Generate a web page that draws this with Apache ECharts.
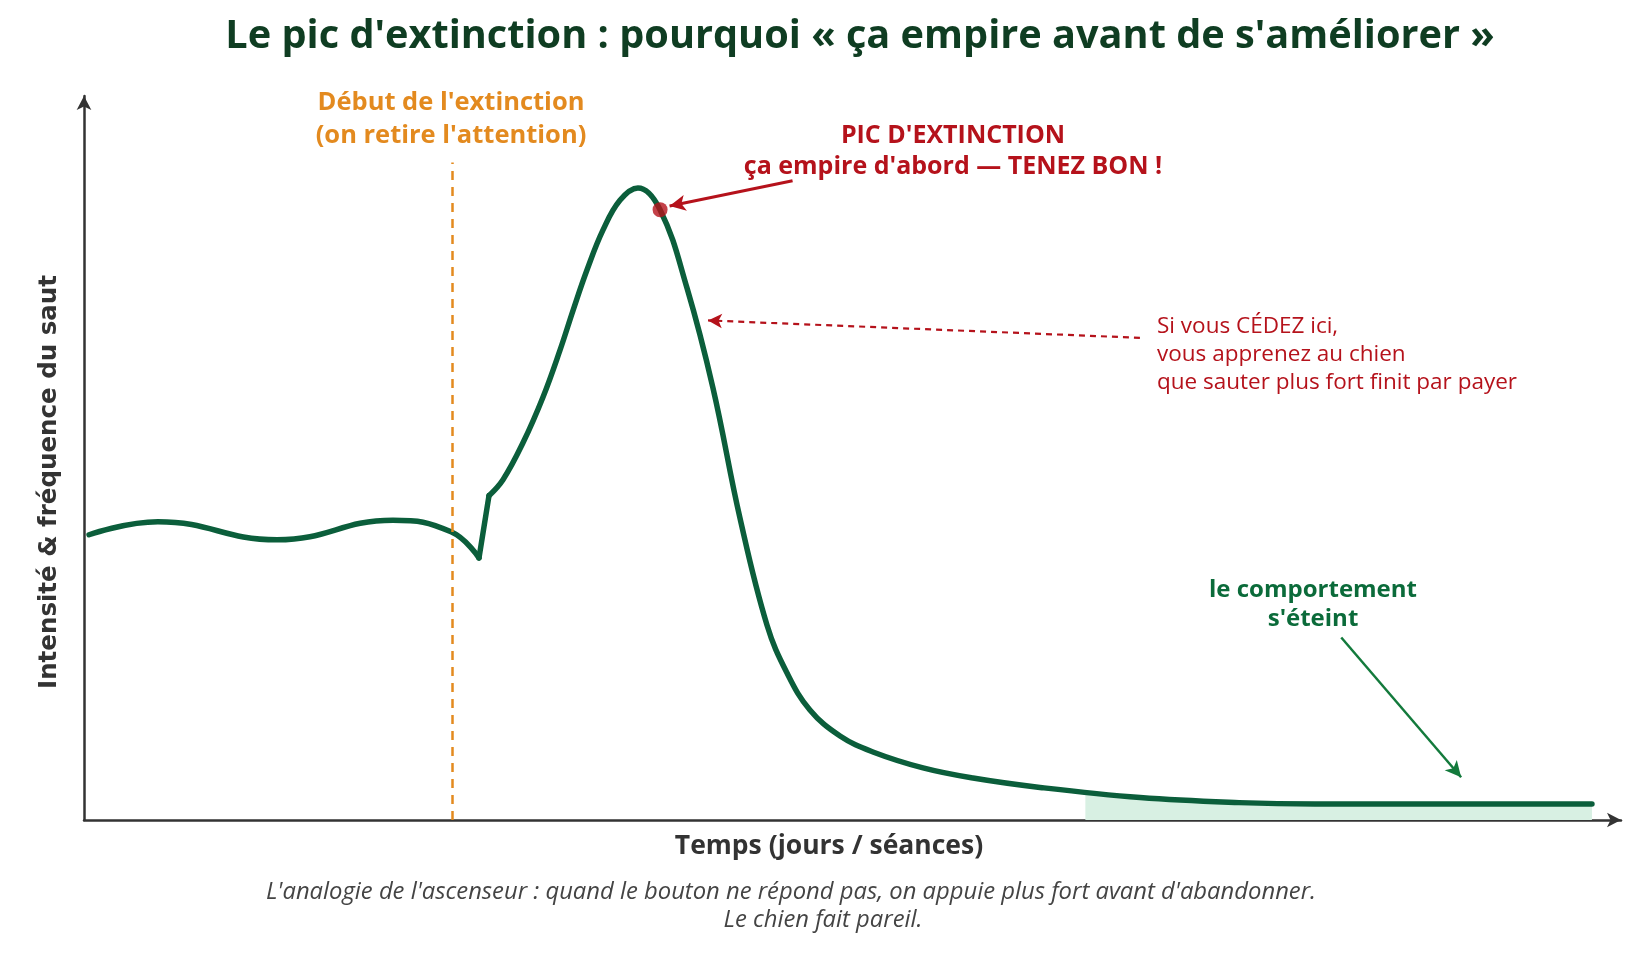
<!DOCTYPE html>
<html>
<head>
<meta charset="utf-8">
<title>Le pic d'extinction</title>
<script src="https://cdn.jsdelivr.net/npm/echarts@6/dist/echarts.min.js"></script>
<style>
  html, body { margin: 0; padding: 0; background: #fff; }
  #chart { width: 1637px; height: 960px; }
</style>
</head>
<body>
<div id="chart"></div>
<script>
// courbe (temps 0-100, intensité 0-100)
var curveTime = [0.33, 4.81, 12.56, 20.10, 23.88, 25.70,
	26.35, 27.26, 28.56, 29.86, 30.97, 31.82, 32.73, 33.77, 34.87, 36.04,
	37.48, 39.23, 40.92, 42.68, 44.44, 45.74, 47.23,
	49.19, 51.33, 54.59, 57.84, 62.20, 68.71, 75.15, 80.09, 98.11];
var curveLevel = [39.4, 41.2, 38.7, 41.4, 39.8, 36.2,
	44.8, 47.0, 52.1, 58.4, 64.9, 70.4, 76.0, 81.5, 85.6, 87.3,
	84.3, 73.5, 59.7, 41.7, 26.9, 20.3, 15.2,
	11.6, 9.4, 7.2, 5.8, 4.5, 3.1, 2.4, 2.2, 2.2];
var dipIndex = 5;   // creux juste après le début de l'extinction
var jumpIndex = 6;  // remontée brutale

// zone claire sous la fin de la courbe
var fillTime = [65.15, 68.71, 75.15, 80.09, 98.11];
var fillLevel = [3.9, 3.1, 2.4, 2.2, 2.2];

var peakPoint = [37.48, 84.3];
var extinctionStart = 23.93;
var extinctionTop = 90.8;

// flèches d'annotation [départ, arrivée]
var peakArrow = [[46.1, 88.3], [38.1, 84.8]];
var cedeArrow = [[68.7, 66.6], [40.6, 69.0]];
var endArrow = [[81.8, 25.2], [89.6, 5.9]];

var green = '#0b5e3b';
var red = '#b5121b';
var orange = '#e38a1f';

function pairs(xs, ys, from, to) {
	var out = [];
	for (var i = from; i <= to; i++) {
		out.push([xs[i], ys[i]]);
	}
	return out;
}

var myChart = echarts.init(document.getElementById('chart'));

var lineStyle = { color: green, width: 5.5, cap: 'round', join: 'round' };

option = {
	animation: false,
	grid: { left: 84, top: 96, width: 1537, height: 724 },
	xAxis: {
		type: 'value', min: 0, max: 100,
		axisLine: { lineStyle: { color: '#333', width: 2.5 }, symbol: ['none', 'arrow'], symbolSize: [11, 14] },
		axisTick: { show: false }, axisLabel: { show: false }, splitLine: { show: false }
	},
	yAxis: {
		type: 'value', min: 0, max: 100,
		axisLine: { show: true, lineStyle: { color: '#333', width: 2.5 }, symbol: ['none', 'arrow'], symbolSize: [11, 14] },
		axisTick: { show: false }, axisLabel: { show: false }, splitLine: { show: false }
	},
	series: [
		{
			type: 'line',
			data: pairs(fillTime, fillLevel, 0, fillTime.length - 1),
			smooth: 0.4,
			symbol: 'none',
			lineStyle: { width: 0 },
			areaStyle: { color: '#d8f0e3', opacity: 1 },
			z: 1,
			silent: true
		},
		{
			type: 'line',
			data: pairs(curveTime, curveLevel, 0, dipIndex),
			smooth: 0.45,
			symbol: 'none',
			lineStyle: lineStyle,
			z: 3
		},
		{
			type: 'line',
			data: pairs(curveTime, curveLevel, dipIndex, jumpIndex),
			symbol: 'none',
			lineStyle: lineStyle,
			z: 3
		},
		{
			type: 'line',
			data: pairs(curveTime, curveLevel, jumpIndex, curveTime.length - 1),
			smooth: 0.4,
			symbol: 'none',
			lineStyle: lineStyle,
			z: 3,
			markLine: {
				silent: true,
				symbol: ['none', 'none'],
				label: { show: false },
				data: [
					[
						{ coord: [extinctionStart, 0], lineStyle: { color: orange, width: 2.5, type: [9, 7] } },
						{ coord: [extinctionStart, extinctionTop] }
					],
					[
						{ coord: peakArrow[0], symbol: 'none', lineStyle: { color: red, width: 3, type: 'solid' } },
						{ coord: peakArrow[1], symbol: 'arrow', symbolSize: [12, 16] }
					],
					[
						{ coord: cedeArrow[0], symbol: 'none', lineStyle: { color: red, width: 2.2, type: [6, 5] } },
						{ coord: cedeArrow[1], symbol: 'arrow', symbolSize: [11, 14] }
					],
					[
						{ coord: endArrow[0], symbol: 'none', lineStyle: { color: '#137a3c', width: 2.5, type: 'solid' } },
						{ coord: endArrow[1], symbol: 'arrow', symbolSize: [12, 16] }
					]
				]
			}
		},
		{
			type: 'scatter',
			data: [peakPoint],
			symbolSize: 15,
			itemStyle: { color: red },
			z: 5
		}
	],
	graphic: [
		{
			type: 'text', x: 860, y: 37,
			style: {
				text: "Le pic d'extinction : pourquoi « ça empire avant de s'améliorer »",
				font: 'bold 39.7px "Open Sans"', fill: '#0f3d22',
				textAlign: 'center', textVerticalAlign: 'middle'
			}
		},
		{
			type: 'text', x: 50, y: 482, rotation: Math.PI / 2,
			style: {
				text: 'Intensité & fréquence du saut',
				font: 'bold 24.5px "DejaVu Sans"', fill: '#333',
				textAlign: 'center', textVerticalAlign: 'middle'
			}
		},
		{
			type: 'text', x: 829, y: 846,
			style: {
				text: 'Temps (jours / séances)',
				font: 'bold 26.5px "Open Sans"', fill: '#333',
				textAlign: 'center', textVerticalAlign: 'middle'
			}
		},
		{
			type: 'text', x: 791, y: 892,
			style: {
				text: "L'analogie de l'ascenseur : quand le bouton ne répond pas, on appuie plus fort avant d'abandonner.",
				font: 'italic 23.8px "Open Sans"', fill: '#444',
				textAlign: 'center', textVerticalAlign: 'middle'
			}
		},
		{
			type: 'text', x: 823, y: 920,
			style: {
				text: 'Le chien fait pareil.',
				font: 'italic 23.8px "Open Sans"', fill: '#444',
				textAlign: 'center', textVerticalAlign: 'middle'
			}
		},
		{
			type: 'text', x: 451, y: 119.5,
			style: {
				text: "Début de l'extinction\n(on retire l'attention)",
				font: 'bold 25.5px "Open Sans"', fill: orange, lineHeight: 33,
				textAlign: 'center', textVerticalAlign: 'middle'
			}
		},
		{
			type: 'text', x: 953, y: 151.5,
			style: {
				text: "PIC D'EXTINCTION\nça empire d'abord — TENEZ BON !",
				font: 'bold 25px "Open Sans"', fill: red, lineHeight: 31,
				textAlign: 'center', textVerticalAlign: 'middle'
			}
		},
		{
			type: 'text', x: 1157, y: 355,
			style: {
				text: 'Si vous CÉDEZ ici,\nvous apprenez au chien\nque sauter plus fort finit par payer',
				font: '22.5px "Open Sans"', fill: red, lineHeight: 28,
				textAlign: 'left', textVerticalAlign: 'middle'
			}
		},
		{
			type: 'text', x: 1313, y: 604.5,
			style: {
				text: "le comportement\ns'éteint",
				font: 'bold 24px "Open Sans"', fill: '#0b6b3a', lineHeight: 29,
				textAlign: 'center', textVerticalAlign: 'middle'
			}
		}
	]
};

myChart.setOption(option);
</script>
</body>
</html>
